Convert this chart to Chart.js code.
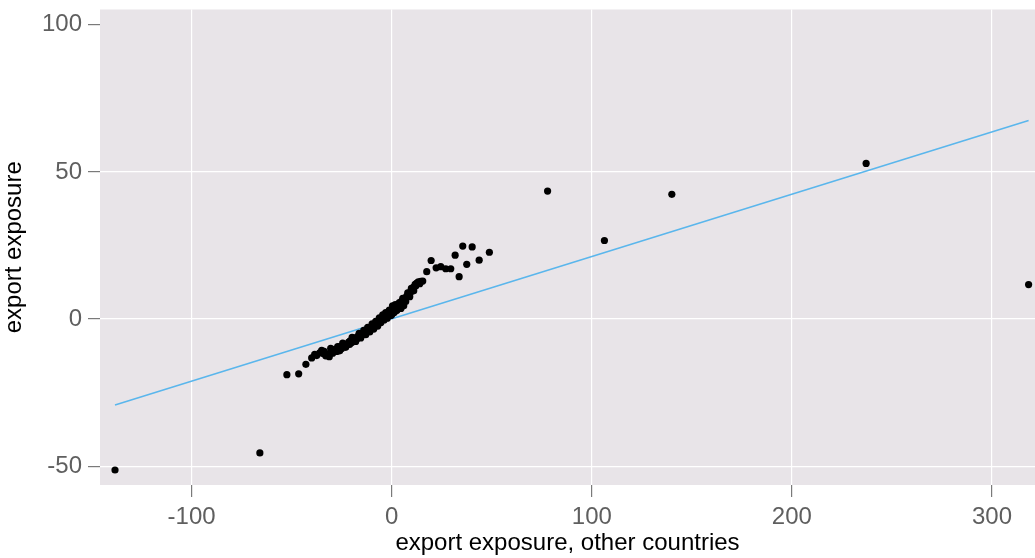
<!DOCTYPE html>
<html>
<head>
<meta charset="utf-8">
<script src="https://cdn.jsdelivr.net/npm/chart.js@4.4.1/dist/chart.umd.min.js"></script>
<style>
  html, body { margin: 0; padding: 0; background: #fff; overflow: hidden; }
  canvas { display: block; }
</style>
</head>
<body>
<canvas id="chart" width="1035" height="558"></canvas>
<script>
// export exposure vs export exposure of other countries
const xTicks = [-100, 0, 100, 200, 300];
const yTicks = [-50, 0, 50, 100];

const pointsX = [
  -138.3, -65.9, -52.4, -46.5, -42.9, -40.0, -38.5, -37.5, -36.0, -34.2,
  -33.0, -31.2, -30.0, -29.0, -28.4, -27.5, -26.5, -25.9, -25.0, -24.0,
  -23.4, -22.5, -21.5, -20.9, -20.0, -19.2, -18.4, -17.5, -16.8, -15.9,
  -15.0, -14.2, -13.4, -12.5, -11.8, -10.9, -10.0, -9.2, -8.4, -7.5,
  -6.7, -5.9, -5.0, -4.2, -3.4, -2.5, -1.7, -0.9, 0.0, 0.8,
  2.0, 3.3, 4.2, 5.0, 6.0, 6.5, 7.5, 8.5, 9.3, 10.0,
  10.8, 11.7, 12.5, 13.3, 14.5, 15.5, 17.5, 19.7, 22.2, 24.5,
  27.0, 29.5, 31.7, 33.7, 35.5, 37.5, 40.2, 43.7, 48.8, 77.9,
  106.3, 140.0, 237.1, 318.3,
  -35.0, -33.8, -32.0, -30.5, -29.5, -27.0, -26.0, -24.5, -23.0, -21.0,
  -19.8, -18.0, -16.3, -15.5, -14.0, -13.0, -12.0, -11.0, -9.8, -9.0,
  -8.0, -7.0, -6.2, -5.4, -4.5, -3.8, -3.0, -2.2, -1.2, -0.5,
  0.4, 1.2, 1.8, 2.6, 3.8, 4.6, 5.5, 7.0, 8.0, 9.0,
  9.8, 11.0, 12.0, 14.0
];
const pointsY = [
  -51.3, -45.5, -18.9, -18.6, -15.4, -13.2, -12.0, -12.4, -11.5, -11.7,
  -12.5, -12.8, -11.2, -10.5, -10.3, -11.0, -9.8, -9.4, -10.0, -9.1,
  -8.6, -8.9, -7.8, -7.5, -8.0, -7.0, -6.4, -6.8, -5.8, -5.2,
  -5.6, -4.7, -4.5, -3.6, -4.0, -3.5, -2.7, -2.4, -2.2, -1.5,
  -0.9, -0.4, 0.1, 0.4, 0.8, 1.0, 1.6, 2.1, 1.5, 3.8,
  2.8, 3.5, 5.0, 6.1, 4.5, 7.0, 7.8, 8.6, 9.2, 9.5,
  10.8, 11.8, 12.2, 12.6, 12.8, 12.9, 16.1, 19.9, 17.4, 17.8,
  17.1, 17.1, 21.7, 14.4, 24.8, 18.6, 24.5, 20.0, 22.7, 43.5,
  26.7, 42.4, 52.9, 11.7,
  -10.6, -11.0, -11.8, -10.0, -11.6, -9.4, -10.8, -8.2, -9.6, -8.6,
  -6.2, -7.6, -4.9, -6.4, -3.8, -5.3, -2.8, -4.4, -1.6, -3.4,
  -0.8, -2.4, 0.4, -1.2, 1.4, -0.3, 2.2, 0.3, 3.0, 1.2,
  4.5, 2.2, 4.9, 3.0, 5.6, 3.6, 7.0, 6.0, 8.9, 7.6,
  10.4, 9.6, 11.2, 12.0
];

// fitted line, end points
const fitX = [-138.3, 318.3];
const fitY = [-29.2, 67.5];

const bg = '#E8E4E8';
const tickGrey = '#5F5F5F';
const font = "'Liberation Sans', Arial, sans-serif";

const panelBg = {
  id: 'panelBg',
  beforeDraw(chart) {
    const { ctx, chartArea: a } = chart;
    ctx.save();
    ctx.fillStyle = bg;
    ctx.fillRect(a.left, a.top, a.right - a.left, a.bottom - a.top);
    ctx.restore();
  }
};

new Chart(document.getElementById('chart'), {
  type: 'scatter',
  data: {
    datasets: [
      {
        label: 'fit',
        type: 'line',
        data: fitX.map((x, i) => ({ x, y: fitY[i] })),
        borderColor: '#5AB6EC',
        borderWidth: 1.6,
        pointRadius: 0,
        fill: false,
        order: 2
      },
      {
        label: 'countries',
        data: pointsX.map((x, i) => ({ x, y: pointsY[i] })),
        backgroundColor: '#000',
        borderColor: '#000',
        pointRadius: 3.6,
        borderWidth: 0,
        order: 1
      }
    ]
  },
  options: {
    responsive: false,
    animation: false,
    layout: { padding: 0, autoPadding: false },
    plugins: {
      legend: { display: false },
      tooltip: { enabled: false }
    },
    scales: {
      x: {
        type: 'linear',
        min: -145.8,
        max: 321.5,
        afterBuildTicks: (s) => { s.ticks = xTicks.map(v => ({ value: v })); },
        afterFit: (s) => { s.height = 73; s.paddingRight = 0; s.paddingLeft = 0; },
        border: { display: false },
        grid: { color: '#fff', lineWidth: 1.2, tickColor: '#7a7a7a', tickLength: 12 },
        ticks: { color: tickGrey, font: { family: font, size: 24 }, padding: 6, maxRotation: 0 },
        title: {
          display: true,
          text: 'export exposure, other countries',
          color: '#000',
          font: { family: font, size: 24 },
          padding: { top: -6, bottom: 0 }
        }
      },
      y: {
        type: 'linear',
        min: -56.4,
        max: 105.2,
        afterBuildTicks: (s) => { s.ticks = yTicks.map(v => ({ value: v })); },
        afterFit: (s) => { s.width = 100; s.paddingTop = 9.5; s.paddingBottom = 0; },
        border: { display: false },
        grid: {
          // no white line at 100 in the original, only the tick mark
          color: (c) => (c.tick && c.tick.value === 100 ? 'rgba(0,0,0,0)' : '#fff'),
          lineWidth: 1.2,
          tickColor: '#7a7a7a',
          tickLength: 12
        },
        ticks: { color: tickGrey, font: { family: font, size: 24 }, padding: 6 },
        title: {
          display: true,
          text: 'export exposure',
          color: '#000',
          font: { family: font, size: 24 },
          padding: { top: 0, bottom: 0 }
        }
      }
    }
  },
  plugins: [panelBg]
});
</script>
</body>
</html>
